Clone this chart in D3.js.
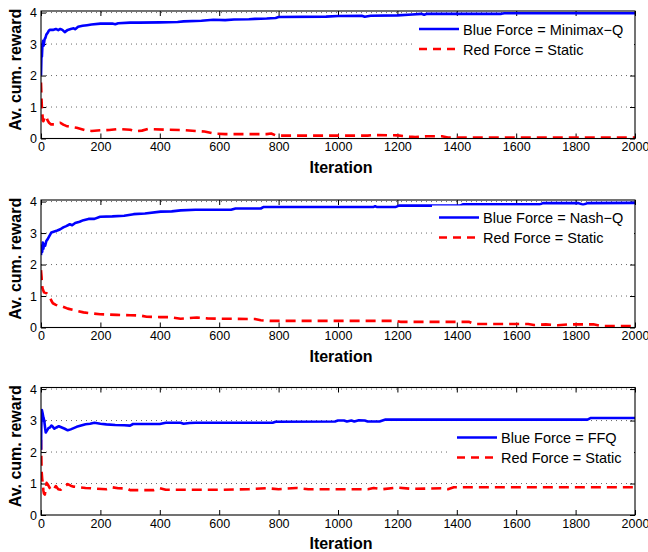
<!DOCTYPE html>
<html><head><meta charset="utf-8">
<script src="https://cdn.jsdelivr.net/npm/d3@7"></script>
<style>
html,body{margin:0;padding:0;background:#fff;}
svg{display:block;font-family:"Liberation Sans",Arial,Helvetica,sans-serif;}
</style></head>
<body>
<svg id="chart" width="648" height="552"></svg>
<script>
// ---- data (iteration, average cumulative reward) ----
const xTicks = [0,200,400,600,800,1000,1200,1400,1600,1800,2000];
const yTicks = [0,1,2,3,4];
const blueLabels = ["Blue Force = Minimax\u2212Q","Blue Force = Nash\u2212Q","Blue Force = FFQ"];
const redLabel = "Red Force = Static";

const minimaxBlue = [[0,2.0],[1,2.4],[2,2.9],[3,2.6],[5,3.0],[7,3.1],[9,2.95],[12,3.15],[15,3.2],[18,3.3],[22,3.35],[26,3.42],[30,3.45],[40,3.45],[50,3.48],[58,3.44],[65,3.48],[72,3.45],[80,3.38],[90,3.45],[100,3.48],[110,3.5],[115,3.47],[125,3.55],[140,3.58],[155,3.6],[170,3.62],[200,3.65],[240,3.65],[250,3.63],[260,3.66],[300,3.68],[330,3.68],[400,3.69],[460,3.7],[480,3.72],[540,3.74],[580,3.77],[620,3.76],[650,3.78],[700,3.79],[720,3.8],[760,3.81],[790,3.83],[800,3.86],[960,3.87],[1000,3.89],[1080,3.9],[1090,3.87],[1110,3.9],[1200,3.91],[1250,3.94],[1280,3.96],[1290,3.93],[1300,3.96],[1550,3.96],[1560,3.98],[2000,3.98]];
const minimaxRed = [[0,1.78],[1,1.5],[2,1.2],[3,1.0],[4,0.92],[5,0.75],[6,0.58],[8,0.55],[10,0.6],[13,0.68],[16,0.72],[19,0.66],[22,0.58],[27,0.5],[33,0.45],[45,0.45],[55,0.48],[65,0.5],[75,0.44],[85,0.4],[100,0.37],[120,0.34],[150,0.26],[170,0.24],[200,0.26],[230,0.27],[260,0.3],[300,0.28],[320,0.23],[340,0.25],[360,0.3],[420,0.28],[480,0.27],[520,0.24],[550,0.22],[575,0.17],[590,0.15],[620,0.14],[760,0.14],[775,0.16],[790,0.1],[800,0.09],[1100,0.09],[1120,0.11],[1200,0.1],[1240,0.06],[1260,0.05],[1300,0.07],[1350,0.07],[1370,0.03],[1400,0.03],[2000,0.03]];

const nashBlue = [[0,2.3],[2,2.6],[4,2.4],[6,2.7],[8,2.5],[10,2.65],[14,2.6],[18,2.75],[22,2.8],[28,2.9],[35,3.02],[45,3.05],[55,3.08],[65,3.12],[75,3.18],[85,3.22],[97,3.28],[105,3.25],[115,3.32],[130,3.36],[143,3.41],[160,3.45],[180,3.45],[199,3.52],[240,3.53],[280,3.55],[312,3.6],[350,3.62],[403,3.68],[440,3.69],[470,3.72],[520,3.74],[640,3.74],[655,3.78],[740,3.78],[750,3.83],[1120,3.83],[1125,3.85],[1130,3.83],[1195,3.83],[1205,3.87],[1410,3.87],[1420,3.91],[1680,3.91],[1690,3.95],[1810,3.95],[1825,3.9],[1840,3.95],[2000,3.96]];
const nashRed = [[0,1.82],[2,1.6],[3,1.4],[5,1.25],[7,1.19],[10,1.12],[15,1.1],[20,1.08],[25,1.02],[30,0.97],[35,0.85],[40,0.77],[50,0.72],[60,0.68],[74,0.66],[90,0.6],[108,0.56],[125,0.52],[143,0.48],[170,0.45],[199,0.42],[230,0.41],[255,0.4],[300,0.39],[334,0.38],[356,0.34],[400,0.33],[430,0.33],[470,0.28],[500,0.3],[525,0.32],[560,0.29],[594,0.28],[720,0.27],[740,0.23],[770,0.21],[1190,0.21],[1210,0.18],[1440,0.18],[1460,0.11],[1640,0.11],[1660,0.08],[1700,0.1],[1740,0.07],[1780,0.1],[1860,0.1],[1885,0.05],[2000,0.05]];

const ffqBlue = [[0,2.07],[1,2.8],[3,3.33],[5,3.25],[8,3.1],[11,3.0],[14,2.75],[16,2.62],[20,2.68],[25,2.76],[30,2.78],[35,2.84],[40,2.8],[45,2.74],[52,2.78],[60,2.82],[70,2.78],[80,2.74],[90,2.69],[100,2.72],[120,2.8],[135,2.84],[150,2.88],[165,2.9],[180,2.93],[200,2.9],[220,2.88],[250,2.86],[280,2.85],[300,2.84],[310,2.89],[400,2.89],[420,2.93],[470,2.93],[480,2.9],[500,2.92],[520,2.93],[780,2.93],[790,2.96],[990,2.97],[1000,3.0],[1020,3.0],[1030,2.97],[1045,3.0],[1055,2.97],[1070,3.01],[1090,3.0],[1100,2.97],[1140,2.97],[1160,3.03],[1840,3.03],[1850,3.08],[2000,3.08]];
const ffqRed = [[0,2.39],[1,1.9],[2,1.4],[4,1.15],[6,1.0],[8,0.78],[10,0.68],[13,0.65],[16,0.85],[19,1.02],[24,0.95],[30,0.85],[36,0.78],[42,0.8],[50,0.92],[58,0.82],[66,0.8],[75,0.88],[90,0.98],[100,0.93],[110,0.9],[130,0.88],[150,0.86],[180,0.84],[220,0.82],[240,0.88],[260,0.85],[290,0.84],[300,0.79],[380,0.79],[400,0.85],[420,0.8],[520,0.8],[600,0.8],[700,0.82],[760,0.85],[800,0.82],[860,0.86],[900,0.82],[1100,0.82],[1120,0.86],[1150,0.82],[1200,0.87],[1250,0.83],[1350,0.85],[1370,0.82],[1390,0.88],[2000,0.88]];

// ---- layout ----
const svg = d3.select("#chart");
const FONT = '"Liberation Sans",Arial,Helvetica,sans-serif';
const left = 41, right = 635, H = 127.5;
const panels = [
  {top: 11,    blue: minimaxBlue, red: minimaxRed, label: blueLabels[0], legX: 412, legY: 29},
  {top: 200,   blue: nashBlue,    red: nashRed,    label: blueLabels[1], legX: 432, legY: 217.5},
  {top: 387.5, blue: ffqBlue,     red: ffqRed,     label: blueLabels[2], legX: 450, legY: 437.5}
];

const x = d3.scaleLinear().domain([0,2000]).range([left,right]);

panels.forEach((p,i) => {
  const bottom = p.top + H;
  const y = d3.scaleLinear().domain([0,4.05]).range([bottom,p.top]);
  const g = svg.append("g");

  // clip
  const cid = "clip"+i;
  svg.append("defs").append("clipPath").attr("id",cid)
    .append("rect").attr("x",left).attr("y",p.top).attr("width",right-left).attr("height",H);

  // grid (horizontal dotted)
  g.append("g").selectAll("line").data(yTicks.filter(d=>d>0)).join("line")
    .attr("x1",left).attr("x2",right)
    .attr("y1",d=>y(d)).attr("y2",d=>y(d))
    .attr("stroke","#444").attr("stroke-width",0.8).attr("stroke-dasharray","1,4");

  // axes (bottom & left with labels, top & right ticks only) - inward ticks
  const xb = g.append("g").attr("transform",`translate(0,${bottom})`)
    .call(d3.axisBottom(x).tickValues(xTicks).tickFormat(d3.format("d")).tickSizeInner(-5).tickSizeOuter(0).tickPadding(4));
  const xt = g.append("g").attr("transform",`translate(0,${p.top})`)
    .call(d3.axisTop(x).tickValues(xTicks).tickFormat("").tickSizeInner(-5).tickSizeOuter(0));
  const yl = g.append("g").attr("transform",`translate(${left},0)`)
    .call(d3.axisLeft(y).tickValues(yTicks).tickFormat(d3.format("d")).tickSizeInner(-5).tickSizeOuter(0).tickPadding(4));
  const yr = g.append("g").attr("transform",`translate(${right},0)`)
    .call(d3.axisRight(y).tickValues(yTicks).tickFormat("").tickSizeInner(-5).tickSizeOuter(0));
  [xb,xt,yl,yr].forEach(a => {
    a.select(".domain").remove();
    a.selectAll(".tick line").attr("stroke","#000").attr("stroke-width",1);
    a.selectAll("text").attr("font-family",FONT).attr("font-size","12.5px").attr("fill","#000");
  });
  xb.selectAll("text").attr("dy","0.71em");

  // lines
  const line = d3.line().x(d=>x(d[0])).y(d=>y(d[1]));
  const lg = g.append("g").attr("clip-path",`url(#${cid})`);
  lg.append("path").datum(p.red).attr("d",line)
    .attr("fill","none").attr("stroke","#ff0000").attr("stroke-width",2.6)
    .attr("stroke-dasharray","10,6").attr("stroke-linejoin","round");
  lg.append("path").datum(p.blue).attr("d",line)
    .attr("fill","none").attr("stroke","#0000ff").attr("stroke-width",2.6)
    .attr("stroke-linejoin","round");

  // legend
  const lgd = g.append("g");
  lgd.append("rect").attr("x",p.legX).attr("y",p.legY-12).attr("width",right-1-p.legX).attr("height",44).attr("fill","#fff");
  lgd.append("line").attr("x1",p.legX+7).attr("x2",p.legX+47).attr("y1",p.legY).attr("y2",p.legY)
    .attr("stroke","#0000ff").attr("stroke-width",2.6);
  lgd.append("line").attr("x1",p.legX+7).attr("x2",p.legX+47).attr("y1",p.legY+20).attr("y2",p.legY+20)
    .attr("stroke","#ff0000").attr("stroke-width",2.6).attr("stroke-dasharray","8,6");
  lgd.append("text").attr("x",p.legX+51).attr("y",p.legY+5.5).text(p.label)
    .attr("font-family",FONT).attr("font-size","14.5px");
  lgd.append("text").attr("x",p.legX+51).attr("y",p.legY+25.5).text(redLabel)
    .attr("font-family",FONT).attr("font-size","14.5px");

  // box
  g.append("rect").attr("x",left).attr("y",p.top).attr("width",right-left).attr("height",H)
    .attr("fill","none").attr("stroke","#000").attr("stroke-width",1.1);

  // axis titles
  g.append("text").attr("x",(left+right)/2+3).attr("y",bottom+34)
    .attr("text-anchor","middle").attr("font-family",FONT).attr("font-weight","bold").attr("font-size","16px")
    .text("Iteration");
  g.append("text").attr("transform",`translate(21,${p.top+H/2-5}) rotate(-90)`)
    .attr("text-anchor","middle").attr("font-family",FONT).attr("font-weight","bold").attr("font-size","16px")
    .text("Av. cum. reward");
});
</script>
</body></html>
